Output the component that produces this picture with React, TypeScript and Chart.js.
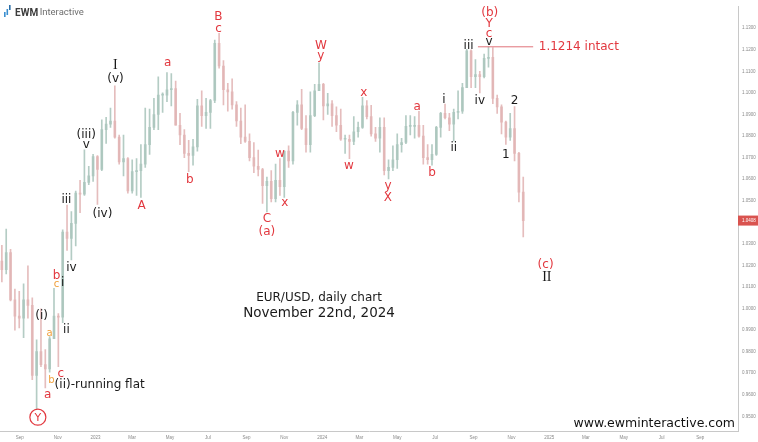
import React, { useEffect, useRef } from "react";
import { Chart, registerables } from "chart.js";

Chart.register(...registerables);

// ---- data (weekly EUR/USD candles: open, high, low, close) ----
const FIRST_WEEK = "2022-08-01";

const ohlc2022: number[][] = [
  [1.022, 1.0293, 1.0123, 1.018],
  [1.018, 1.0368, 1.016, 1.026],
  [1.026, 1.0275, 1.0035, 1.004],
  [1.004, 1.009, 0.99, 0.9965],
  [0.9965, 1.008, 0.991, 0.9955],
  [0.9955, 1.0115, 0.9865, 1.004],
  [1.004, 1.0198, 0.9955, 1.0015],
  [1.0015, 1.005, 0.967, 0.969],
  [0.969, 0.9855, 0.9536, 0.98],
  [0.98, 0.9999, 0.973, 0.974],
  [0.974, 0.981, 0.9632, 0.972],
  [0.972, 0.987, 0.9705, 0.986],
  [0.986, 1.0094, 0.986, 0.9965],
  [0.9965, 0.9977, 0.973, 0.996],
  [0.996, 1.0365, 0.9935, 1.0355],
  [1.0355, 1.048, 1.027, 1.0325],
  [1.0325, 1.045, 1.0225, 1.0395],
  [1.0395, 1.0545, 1.029, 1.0535],
  [1.0535, 1.0595, 1.0445, 1.053],
  [1.053, 1.0736, 1.0525, 1.0585],
  [1.0585, 1.066, 1.0575, 1.0615],
  [1.0615, 1.0715, 1.059, 1.0705],
];

const ohlc2023: number[][] = [
  [1.0705, 1.071, 1.0483, 1.0645],
  [1.0645, 1.0875, 1.064, 1.083],
  [1.083, 1.0887, 1.0766, 1.0855],
  [1.0855, 1.093, 1.084, 1.087],
  [1.087, 1.1033, 1.079, 1.0795],
  [1.0795, 1.0805, 1.067, 1.068],
  [1.068, 1.0805, 1.0615, 1.0695],
  [1.0695, 1.07, 1.0535, 1.0545],
  [1.0545, 1.069, 1.0535, 1.0635],
  [1.0635, 1.0695, 1.0525, 1.064],
  [1.064, 1.076, 1.0515, 1.067],
  [1.067, 1.093, 1.0655, 1.076],
  [1.076, 1.0925, 1.0715, 1.084],
  [1.084, 1.0975, 1.083, 1.09],
  [1.09, 1.1075, 1.083, 1.099],
  [1.099, 1.1, 1.091, 1.099],
  [1.099, 1.1095, 1.096, 1.1015],
  [1.1015, 1.109, 1.094, 1.102],
  [1.102, 1.1055, 1.085, 1.085],
  [1.085, 1.0905, 1.076, 1.0805],
  [1.0805, 1.083, 1.07, 1.072],
  [1.072, 1.078, 1.0635, 1.071],
  [1.071, 1.0785, 1.0665, 1.075],
  [1.075, 1.097, 1.073, 1.094],
  [1.094, 1.101, 1.0845, 1.0895],
  [1.0895, 1.0975, 1.0835, 1.091],
  [1.091, 1.097, 1.0835, 1.0965],
  [1.0965, 1.1245, 1.0955, 1.123],
  [1.123, 1.1276, 1.1115, 1.1125],
  [1.1125, 1.115, 1.0945, 1.1015],
  [1.1015, 1.1045, 1.0915, 1.1005],
  [1.1005, 1.1065, 1.0925, 1.0945],
  [1.0945, 1.096, 1.0845, 1.087],
  [1.087, 1.093, 1.0765, 1.0795],
  [1.0795, 1.0945, 1.077, 1.0775],
  [1.0775, 1.081, 1.0685, 1.07],
  [1.07, 1.077, 1.063, 1.066],
  [1.066, 1.0735, 1.0615, 1.0645],
  [1.0645, 1.065, 1.0488, 1.057],
  [1.057, 1.061, 1.0448, 1.059],
  [1.059, 1.064, 1.0495, 1.051],
  [1.051, 1.067, 1.0495, 1.0595],
  [1.0595, 1.0695, 1.0525, 1.0565],
  [1.0565, 1.073, 1.0515, 1.073],
  [1.073, 1.0755, 1.0655, 1.0685],
  [1.0685, 1.0915, 1.067, 1.091],
  [1.091, 1.0965, 1.085, 1.0945],
  [1.0945, 1.1017, 1.083, 1.0835],
  [1.0835, 1.0895, 1.0725, 1.076],
  [1.076, 1.1005, 1.0725, 1.0895],
  [1.0895, 1.104, 1.089, 1.101],
  [1.101, 1.114, 1.101, 1.104],
];

const ohlc2024: number[][] = [
  [1.104, 1.1045, 1.0875, 1.094],
  [1.094, 1.0998, 1.09, 1.095],
  [1.095, 1.0965, 1.0845, 1.0895],
  [1.0895, 1.0935, 1.082, 1.085],
  [1.085, 1.0925, 1.078, 1.0785],
  [1.0785, 1.0805, 1.072, 1.0785],
  [1.0785, 1.0805, 1.0695, 1.0775],
  [1.0775, 1.089, 1.076, 1.082],
  [1.082, 1.0865, 1.0795, 1.084],
  [1.084, 1.098, 1.0835, 1.094],
  [1.094, 1.0965, 1.088, 1.089],
  [1.089, 1.0942, 1.08, 1.081],
  [1.081, 1.084, 1.0775, 1.079],
  [1.079, 1.0885, 1.0725, 1.084],
  [1.084, 1.0885, 1.062, 1.064],
  [1.064, 1.069, 1.0601, 1.0655],
  [1.0655, 1.0755, 1.064, 1.069],
  [1.069, 1.081, 1.065, 1.076],
  [1.076, 1.079, 1.0725, 1.077],
  [1.077, 1.0895, 1.0765, 1.0845],
  [1.0845, 1.0895, 1.0805, 1.0845],
  [1.0845, 1.089, 1.079, 1.085],
  [1.085, 1.0915, 1.0795, 1.08],
  [1.08, 1.085, 1.067, 1.07],
  [1.07, 1.076, 1.067, 1.069],
  [1.069, 1.076, 1.0665, 1.0715],
  [1.0715, 1.0845, 1.071, 1.084],
  [1.084, 1.091, 1.0795, 1.0905],
  [1.0905, 1.0948, 1.088, 1.0885],
  [1.0885, 1.0905, 1.0825, 1.0855],
  [1.0855, 1.0925, 1.0778, 1.091],
  [1.091, 1.101, 1.088, 1.0915],
  [1.0915, 1.1045, 1.0905, 1.1025],
  [1.1025, 1.1202, 1.1025, 1.1195],
  [1.1195, 1.12, 1.1025, 1.1075],
  [1.1075, 1.1155, 1.1025, 1.1085],
  [1.1085, 1.11, 1.1, 1.1075],
  [1.1075, 1.118, 1.107, 1.116],
  [1.116, 1.1214, 1.112, 1.1165],
  [1.1165, 1.121, 1.095, 1.0975],
  [1.0975, 1.099, 1.0905, 1.0935],
  [1.0935, 1.0945, 1.081, 1.0865],
  [1.0865, 1.087, 1.0761, 1.0795],
  [1.0795, 1.0905, 1.078, 1.0835],
  [1.0835, 1.0937, 1.0685, 1.072],
  [1.072, 1.0725, 1.0495, 1.054],
  [1.054, 1.061, 1.0332, 1.0408],
];

const xTickDates = [
  "2022-09-01", "2022-11-01", "2023-01-01", "2023-03-01", "2023-05-01",
  "2023-07-01", "2023-09-01", "2023-11-01", "2024-01-01", "2024-03-01",
  "2024-05-01", "2024-07-01", "2024-09-01", "2024-11-01", "2025-01-01",
  "2025-03-01", "2025-05-01", "2025-07-01", "2025-09-01",
];
const xTickLabels = [
  "Sep", "Nov", "2023", "Mar", "May", "Jul", "Sep", "Nov", "2024", "Mar",
  "May", "Jul", "Sep", "Nov", "2025", "Mar", "May", "Jul", "Sep",
];
const yTicks = [
  0.95, 0.96, 0.97, 0.98, 0.99, 1.0, 1.01, 1.02, 1.03, 1.04,
  1.05, 1.06, 1.07, 1.08, 1.09, 1.1, 1.11, 1.12, 1.13,
];
const xRange = ["2022-07-31", "2025-11-01"];
const yRange = [0.9432, 1.14];

const intactLevel = 1.1214;
const intactLine = ["2024-09-08", "2024-12-06"];
const intactText = ["1.1214 intact", "2024-12-15"];

// wave labels: text, date, price, style, align
const waveLabels: [string, string, number, string, string?][] = [
  ["B", "2023-07-18", 1.1355, "r"],
  ["c", "2023-07-18", 1.13, "r"],
  ["a", "2023-04-27", 1.114, "r"],
  ["I", "2023-02-02", 1.113, "R"],
  ["(v)", "2023-02-02", 1.1067, "k"],
  ["(iii)", "2022-12-17", 1.0807, "k"],
  ["v", "2022-12-17", 1.0761, "k"],
  ["iii", "2022-11-15", 1.0505, "k"],
  ["(iv)", "2023-01-12", 1.0442, "k"],
  ["A", "2023-03-16", 1.0478, "r"],
  ["b", "2023-06-02", 1.0601, "r"],
  ["C", "2023-10-04", 1.0419, "r"],
  ["(a)", "2023-10-04", 1.0359, "r"],
  ["w", "2023-10-25", 1.072, "r"],
  ["x", "2023-11-02", 1.0492, "r"],
  ["W", "2023-12-30", 1.1222, "r"],
  ["y", "2023-12-30", 1.1172, "r"],
  ["w", "2024-02-13", 1.0665, "r"],
  ["x", "2024-03-08", 1.1003, "r"],
  ["y", "2024-04-16", 1.0569, "r"],
  ["X", "2024-04-16", 1.0515, "r"],
  ["a", "2024-06-02", 1.0939, "r"],
  ["b", "2024-06-26", 1.0633, "r"],
  ["i", "2024-07-15", 1.0971, "k"],
  ["ii", "2024-07-31", 1.0748, "k"],
  ["iii", "2024-08-24", 1.1222, "k"],
  ["iv", "2024-09-11", 1.0967, "k"],
  ["v", "2024-09-26", 1.1241, "k"],
  ["c", "2024-09-26", 1.1277, "r"],
  ["Y", "2024-09-26", 1.1323, "r"],
  ["(b)", "2024-09-27", 1.1373, "r"],
  ["2", "2024-11-06", 1.0967, "k"],
  ["1", "2024-10-23", 1.0716, "k"],
  ["(c)", "2024-12-26", 1.0204, "r"],
  ["II", "2024-12-28", 1.0145, "R"],
  ["b", "2022-10-30", 1.0154, "r"],
  ["c", "2022-10-30", 1.0113, "o"],
  ["i", "2022-11-09", 1.0122, "k"],
  ["iv", "2022-11-23", 1.019, "k"],
  ["(i)", "2022-10-06", 0.9967, "k"],
  ["a", "2022-10-19", 0.9889, "o"],
  ["ii", "2022-11-15", 0.9903, "k"],
  ["b", "2022-10-22", 0.967, "o"],
  ["c", "2022-11-06", 0.9697, "r"],
  ["(ii)-running flat", "2022-10-27", 0.9647, "k", "left"],
  ["a", "2022-10-16", 0.9601, "r"],
  ["Y", "2022-09-30", 0.9496, "rc"],
];

const chartTitle = "EUR/USD, daily chart";
const chartDate = "November 22nd, 2024";
const titleAnchor = ["2023-12-27", 1.005];
const dateAnchor = ["2023-12-27", 0.9977];

// ---- helpers ----
const EPOCH = Date.UTC(2022, 8, 1);
function dayOf(s: string): number {
  const [y, m, d] = s.split("-").map(Number);
  return (Date.UTC(y, m - 1, d) - EPOCH) / 86400000;
}

const STYLES: Record<string, { color: string; font: string }> = {
  r: { color: "#e2383f", font: "12px 'DejaVu Sans'" },
  k: { color: "#1a1a1a", font: "12px 'DejaVu Sans'" },
  o: { color: "#f0a03c", font: "10px 'DejaVu Sans'" },
  R: { color: "#1a1a1a", font: "14px 'Liberation Serif'" },
  rc: { color: "#e2383f", font: "11px 'DejaVu Sans'" },
};

const UP = "rgba(172,198,190,0.9)";
const DOWN = "rgba(226,182,182,0.9)";

const annotPlugin = {
  id: "ewmAnnotations",
  afterDatasetsDraw(chart: any) {
    const { ctx, scales } = chart;
    const x = scales.x;
    const y = scales.y;
    ctx.save();
    // resistance line
    const ly = y.getPixelForValue(intactLevel);
    ctx.strokeStyle = "#e0737a";
    ctx.lineWidth = 1;
    ctx.beginPath();
    ctx.moveTo(x.getPixelForValue(dayOf(intactLine[0])), ly);
    ctx.lineTo(x.getPixelForValue(dayOf(intactLine[1])), ly);
    ctx.stroke();
    ctx.fillStyle = "#e2383f";
    ctx.font = "12px 'DejaVu Sans'";
    ctx.textAlign = "left";
    ctx.textBaseline = "middle";
    ctx.fillText(intactText[0], x.getPixelForValue(dayOf(intactText[1])), ly);

    for (const [text, date, price, style, align] of waveLabels) {
      const st = STYLES[style];
      const px = x.getPixelForValue(dayOf(date));
      const py = y.getPixelForValue(price);
      ctx.fillStyle = st.color;
      ctx.font = st.font;
      ctx.textAlign = (align as CanvasTextAlign) || "center";
      ctx.textBaseline = "middle";
      ctx.fillText(text, px, py + 0.5);
      if (style === "rc") {
        ctx.strokeStyle = st.color;
        ctx.lineWidth = 1.2;
        ctx.beginPath();
        ctx.arc(px, py, 8, 0, Math.PI * 2);
        ctx.stroke();
      }
    }

    // title texts
    ctx.fillStyle = "#1a1a1a";
    ctx.textAlign = "center";
    ctx.font = "12px 'DejaVu Sans'";
    ctx.fillText(chartTitle, x.getPixelForValue(dayOf(titleAnchor[0] as string)), y.getPixelForValue(titleAnchor[1] as number));
    ctx.font = "13.5px 'DejaVu Sans'";
    ctx.fillText(chartDate, x.getPixelForValue(dayOf(dateAnchor[0] as string)), y.getPixelForValue(dateAnchor[1] as number));
    ctx.restore();
  },
  afterDraw(chart: any) {
    const { ctx, scales, chartArea } = chart;
    const y = scales.y;
    ctx.save();
    // last price tag
    const last = ohlc2024[ohlc2024.length - 1][3];
    const ty = y.getPixelForValue(last);
    ctx.fillStyle = "#d9534f";
    ctx.fillRect(chartArea.right, ty - 5, 20, 10);
    ctx.fillStyle = "#ffffff";
    ctx.font = "4.5px 'Liberation Sans'";
    ctx.textAlign = "left";
    ctx.textBaseline = "middle";
    ctx.fillText(last.toFixed(4), chartArea.right + 4, ty);

    // website
    ctx.fillStyle = "#ffffff";
    ctx.fillRect(576, 416, chartArea.right - 576, chartArea.bottom - 416);
    ctx.fillStyle = "#111111";
    ctx.font = "12.5px 'DejaVu Sans'";
    ctx.textAlign = "right";
    ctx.textBaseline = "middle";
    ctx.fillText("www.ewminteractive.com", chartArea.right - 3, 424);

    // logo
    ctx.fillStyle = "#3b8fd0";
    ctx.fillRect(4, 12, 1.6, 5);
    ctx.fillRect(6.5, 9, 1.6, 6);
    ctx.fillStyle = "#2a6ea8";
    ctx.fillRect(9, 5, 1.6, 5);
    ctx.textAlign = "left";
    ctx.textBaseline = "middle";
    ctx.fillStyle = "#3d3d3d";
    ctx.font = "bold 10px Roboto";
    ctx.fillText("EWM", 15, 13);
    const w = ctx.measureText("EWM").width;
    ctx.fillStyle = "#6e6e6e";
    ctx.font = "9.5px Roboto";
    ctx.fillText("Interactive", 15 + w + 1.5, 13);
    ctx.restore();
  },
};

export default function App() {
  const ref = useRef<HTMLCanvasElement>(null);

  useEffect(() => {
    document.body.style.margin = "0";
    const all = [...ohlc2022, ...ohlc2023, ...ohlc2024];
    const start = dayOf(FIRST_WEEK);
    const xs = all.map((_, i) => start + 7 * i + 2);
    const colors = all.map((c) => (c[3] >= c[0] ? UP : DOWN));
    const bodies = all.map((c, i) => ({
      x: xs[i],
      y: [Math.min(c[0], c[3]), Math.max(c[0], c[3])],
    }));
    const wicks = all.map((c, i) => ({ x: xs[i], y: [c[2], c[1]] }));

    const axisFont = { size: 4.5, family: "'Liberation Sans'" };
    const chart = new Chart(ref.current as HTMLCanvasElement, {
      type: "bar",
      data: {
        datasets: [
          {
            label: "body",
            data: bodies as any,
            backgroundColor: colors,
            barThickness: 2,
            minBarLength: 1,
            grouped: false,
            borderWidth: 0,
          } as any,
          {
            label: "wick",
            data: wicks as any,
            backgroundColor: colors,
            barThickness: 1,
            grouped: false,
            borderWidth: 0,
          } as any,
        ],
      },
      options: {
        animation: false,
        responsive: true,
        maintainAspectRatio: false,
        layout: { padding: 0 },
        plugins: { legend: { display: false }, tooltip: { enabled: false } },
        scales: {
          x: {
            type: "linear",
            min: dayOf(xRange[0]),
            max: dayOf(xRange[1]),
            offset: false,
            grid: { display: false, drawTicks: false },
            border: { display: true, color: "#c8c8c8" },
            ticks: {
              autoSkip: false,
              maxRotation: 0,
              padding: 4,
              font: axisFont,
              color: "#8a8a8a",
              callback: (_v: any, i: number) => xTickLabels[i],
            },
            afterBuildTicks: (s: any) => {
              s.ticks = xTickDates.map((d) => ({ value: dayOf(d) }));
            },
            afterFit: (s: any) => {
              s.height = 11;
            },
          },
          y: {
            position: "right",
            min: yRange[0],
            max: yRange[1],
            grid: { display: false, drawTicks: false },
            border: { display: true, color: "#c8c8c8" },
            ticks: {
              padding: 4,
              font: axisFont,
              color: "#8a8a8a",
              callback: (v: any) => Number(v).toFixed(4),
            },
            afterBuildTicks: (s: any) => {
              s.ticks = yTicks.map((v) => ({ value: v }));
            },
            afterFit: (s: any) => {
              s.width = 20;
            },
          },
        } as any,
      },
      plugins: [annotPlugin],
    });
    return () => chart.destroy();
  }, []);

  return (
    <div
      style={{
        position: "fixed",
        left: 0,
        top: 0,
        width: 758,
        height: 442,
        background: "#ffffff",
      }}
    >
      <canvas ref={ref} />
    </div>
  );
}
